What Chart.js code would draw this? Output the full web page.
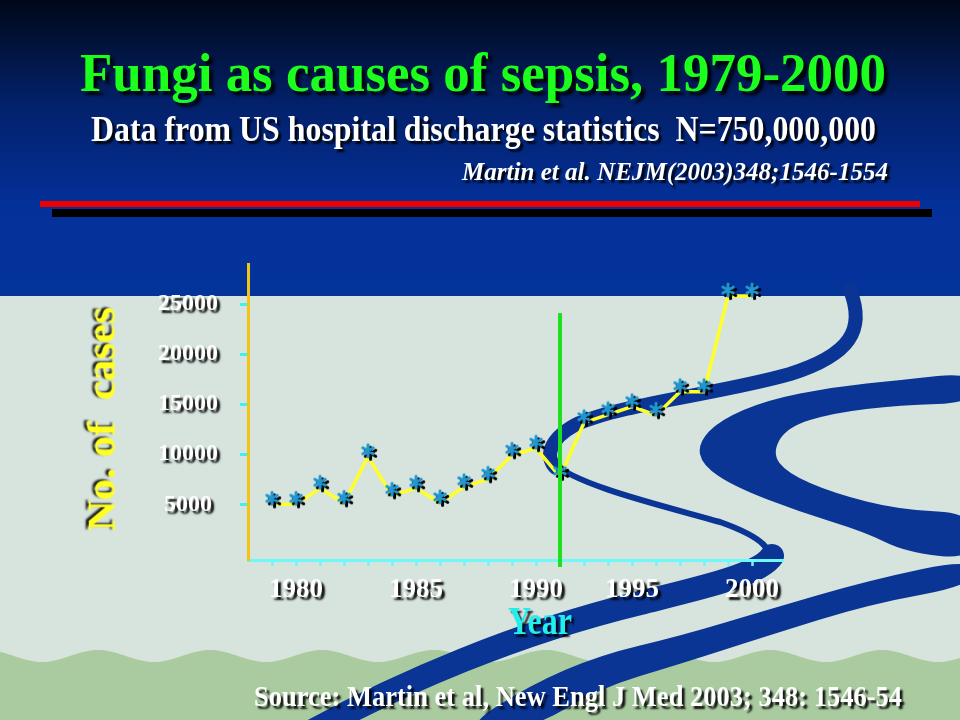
<!DOCTYPE html>
<html>
<head>
<meta charset="utf-8">
<title>Fungi as causes of sepsis, 1979-2000</title>
<script src="https://cdn.jsdelivr.net/npm/chart.js@4.4.1/dist/chart.umd.min.js"></script>
<style>
html, body { margin: 0; padding: 0; }
body { width: 960px; height: 720px; position: relative; overflow: hidden; background: #d6e4dd; }
#chart { position: absolute; left: 0; top: 0; }
.txt { position: absolute; white-space: pre; font-family: "Liberation Serif", "Times New Roman", serif; }
</style>
</head>
<body>
<canvas id="chart" width="960" height="720"></canvas>
<script>
// data (one point per year slot on the x axis)
const tickLabels = ['', '1980', '', '', '', '', '1985', '', '', '', '', '1990', '', '', '', '1995', '', '', '', '', '2000'];
const cases = [5000, 5000, 6600, 5100, 9750, 5900, 6600, 5150, 6750, 7500, 9900,
               10600, 7750, 13150, 13950, 14750, 13900, 16250, 16250, 25800, 25800];
const yTicks = [5000, 10000, 15000, 20000, 25000];

// vertical green marker line
const markerIndex = 12;
const markerTop = 24100;
const markerBottom = -1260;

const measureCtx = document.createElement('canvas').getContext('2d');

// put a text with its baseline start at (x, baseline), squeezed to a given width
function placeText(text, opts) {
    const el = document.createElement('div');
    el.className = 'txt';
    el.textContent = text;
    const size = opts.cap / 0.66;
    const font = (opts.italic ? 'italic ' : '') + 'bold ' + size.toFixed(1) + 'px "Liberation Serif"';
    measureCtx.font = font;
    const sx = opts.width / measureCtx.measureText(text).width;
    const base = 0.8375 * size;
    el.style.font = font;
    el.style.lineHeight = size + 'px';
    el.style.color = opts.color;
    el.style.textShadow = opts.shadow;
    el.style.left = opts.x + 'px';
    el.style.top = (opts.baseline - base) + 'px';
    el.style.transformOrigin = '0 ' + base + 'px';
    el.style.transform = (opts.rotate ? 'rotate(-90deg) ' : '') + 'scaleX(' + sx + ')';
    document.body.appendChild(el);
}

function drawArms(g, cx, cy, color) {
    g.strokeStyle = color;
    g.beginPath();
    for (let k = 0; k < 3; k++) {
        const a = Math.PI / 2 + k * Math.PI / 3;
        const dx = Math.cos(a) * 6, dy = Math.sin(a) * 6;
        g.moveTo(cx - dx, cy - dy);
        g.lineTo(cx + dx, cy + dy);
    }
    g.stroke();
}

// asterisk marker, drawn a little above the point like on the slide
function makeStar() {
    const c = document.createElement('canvas');
    c.width = 32;
    c.height = 32;
    const g = c.getContext('2d');
    g.lineCap = 'round';
    g.lineWidth = 3;
    drawArms(g, 18.5, 12.5, '#000000');
    drawArms(g, 16, 10, '#2196cf');
    return c;
}

function smoothShape(ctx, pts) {
    ctx.beginPath();
    const n = pts.length;
    const mid = (a, b) => [(a[0] + b[0]) / 2, (a[1] + b[1]) / 2];
    let m = mid(pts[n - 1], pts[0]);
    ctx.moveTo(m[0], m[1]);
    for (let i = 0; i < n; i++) {
        const p = pts[i];
        const q = mid(p, pts[(i + 1) % n]);
        ctx.quadraticCurveTo(p[0], p[1], q[0], q[1]);
    }
    ctx.closePath();
    ctx.fill();
}

function strokeCurve(ctx, width, p) {
    ctx.lineWidth = width;
    ctx.beginPath();
    ctx.moveTo(p[0], p[1]);
    for (let i = 2; i < p.length; i += 6) {
        ctx.bezierCurveTo(p[i], p[i + 1], p[i + 2], p[i + 3], p[i + 4], p[i + 5]);
    }
    ctx.stroke();
}

function drawBackdrop(ctx) {
    ctx.save();
    ctx.fillStyle = '#d6e4dd';
    ctx.fillRect(0, 0, 960, 720);

    const grad = ctx.createLinearGradient(0, 0, 0, 296);
    grad.addColorStop(0, '#000818');
    grad.addColorStop(0.35, '#03216a');
    grad.addColorStop(0.7, '#04309a');
    grad.addColorStop(1, '#03349a');
    ctx.fillStyle = grad;
    ctx.fillRect(0, 0, 960, 296);

    // hills
    ctx.fillStyle = '#aacba0';
    ctx.beginPath();
    ctx.moveTo(0, 720);
    for (let x = 0; x <= 960; x += 4) {
        ctx.lineTo(x, 656 - 6 * Math.cos(2 * Math.PI * (x - 98) / 112));
    }
    ctx.lineTo(960, 720);
    ctx.closePath();
    ctx.fill();

    // river
    ctx.fillStyle = '#0a3594';
    ctx.strokeStyle = '#0a3594';
    ctx.lineCap = 'round';
    strokeCurve(ctx, 14, [850, 290, 866, 330, 850, 355, 790, 374, 720, 394, 620, 404, 575, 425, 548, 440, 545, 458, 556, 468]);
    strokeCurve(ctx, 6, [552, 462, 575, 485, 660, 505, 720, 522, 765, 538, 775, 552, 765, 562]);
    strokeCurve(ctx, 24, [772, 556, 760, 575, 700, 588, 640, 603, 520, 632, 400, 682, 300, 738]);
    smoothShape(ctx, [[975, 372], [900, 380], [833, 387], [767, 400], [720, 420], [698, 443], [702, 465],
        [735, 487], [800, 512], [865, 532], [905, 552], [975, 560], [975, 513], [900, 510], [833, 493],
        [787, 473], [772, 453], [787, 427], [833, 413], [900, 405], [975, 403]]);
    smoothShape(ctx, [[975, 558], [870, 580], [767, 610], [680, 636], [600, 655], [530, 685], [460, 730],
        [530, 730], [600, 688], [680, 664], [767, 636], [870, 604], [975, 585]]);

    // red and black rules under the heading
    ctx.fillStyle = '#000000';
    ctx.fillRect(52, 209, 880, 8);
    ctx.fillStyle = '#ee0000';
    ctx.fillRect(40, 201, 880, 6);
    ctx.restore();
}

const backdrop = {
    id: 'backdrop',
    beforeDraw(chart) { drawBackdrop(chart.ctx); },
    afterDatasetsDraw(chart) {
        // tick labels are drawn after this (z: 1), give them a drop shadow
        const c = chart.ctx;
        c.shadowColor = 'rgba(0,0,0,0.95)';
        c.shadowOffsetX = 3;
        c.shadowOffsetY = 3;
        c.shadowBlur = 2;
    },
    afterDraw(chart) {
        const c = chart.ctx;
        c.shadowColor = 'rgba(0,0,0,0)';
        c.shadowOffsetX = 0;
        c.shadowOffsetY = 0;
        c.shadowBlur = 0;
    }
};

const star = makeStar();

new Chart(document.getElementById('chart'), {
    type: 'line',
    data: {
        datasets: [{
            data: [{x: markerIndex, y: markerTop}, {x: markerIndex, y: markerBottom}],
            borderColor: '#1ee01e',
            borderWidth: 4,
            pointRadius: 0,
            clip: false
        }, {
            data: cases.map((v, i) => ({x: i, y: v})),
            borderColor: '#ffff2a',
            borderWidth: 3.5,
            tension: 0,
            pointStyle: star,
            pointRadius: 6,
            clip: false
        }]
    },
    plugins: [backdrop],
    options: {
        responsive: false,
        animation: false,
        devicePixelRatio: 1,
        layout: { padding: { left: 148, top: 264, right: 177, bottom: 100 } },
        plugins: { legend: { display: false }, tooltip: { enabled: false } },
        scales: {
            x: {
                type: 'linear',
                min: -1,
                max: 21.29,
                bounds: 'data',
                afterBuildTicks: (scale) => { scale.ticks = tickLabels.map((_, i) => ({value: i})); },
                afterFit: (scale) => { scale.height = 60; },
                border: { color: '#6ff8f8', width: 3 },
                grid: { drawOnChartArea: false, tickLength: 6, tickColor: '#6ff8f8', tickWidth: 2.5 },
                ticks: {
                    z: 1,
                    autoSkip: false,
                    maxRotation: 0,
                    minRotation: 0,
                    padding: 8,
                    color: '#ffffff',
                    font: { family: '"Liberation Serif"', size: 27, weight: 'bold' },
                    callback: (value) => tickLabels[value]
                }
            },
            y: {
                min: -560,
                max: 29000,
                bounds: 'data',
                afterBuildTicks: (scale) => { scale.ticks = yTicks.map(v => ({value: v})); },
                afterFit: (scale) => { scale.width = 100; },
                border: { color: '#f2c414', width: 3 },
                grid: { drawOnChartArea: false, tickLength: 8, tickColor: '#3ef0f0', tickWidth: 3 },
                ticks: {
                    z: 1,
                    crossAlign: 'center',
                    padding: 22,
                    color: '#ffffff',
                    font: { family: '"Liberation Serif"', size: 24, weight: 'bold' },
                    callback: (value) => String(value)
                }
            }
        }
    }
});

const dark = '4px 4px 3px rgba(0,0,0,0.9)';
placeText('Fungi as causes of sepsis, 1979-2000', { x: 80, baseline: 92, width: 806, cap: 36, color: '#1cff1c', shadow: dark });
placeText('Data from US hospital discharge statistics  N=750,000,000', { x: 91, baseline: 142, width: 785, cap: 23, color: '#ffffff', shadow: '3px 3px 2px rgba(0,0,0,0.9)' });
placeText('Martin et al. NEJM(2003)348;1546-1554', { x: 462, baseline: 181, width: 426, cap: 17, italic: true, color: '#ffffff', shadow: '3px 3px 2px rgba(0,0,0,0.9)' });
placeText('Source: Martin et al, New Engl J Med 2003; 348: 1546-54', { x: 254, baseline: 706, width: 648, cap: 19, color: '#ffffff', shadow: '3px 3px 2px rgba(0,0,0,0.9)' });
placeText('Year', { x: 508, baseline: 635, width: 64, cap: 26, color: '#22eeee', shadow: '3px 3px 2px rgba(0,0,0,0.9)' });
placeText('No. of  cases', { x: 116, baseline: 531, width: 224, cap: 27, rotate: true, color: '#ffff22', shadow: '1px -3px 2px rgba(0,0,0,0.9)' });
</script>
</body>
</html>
